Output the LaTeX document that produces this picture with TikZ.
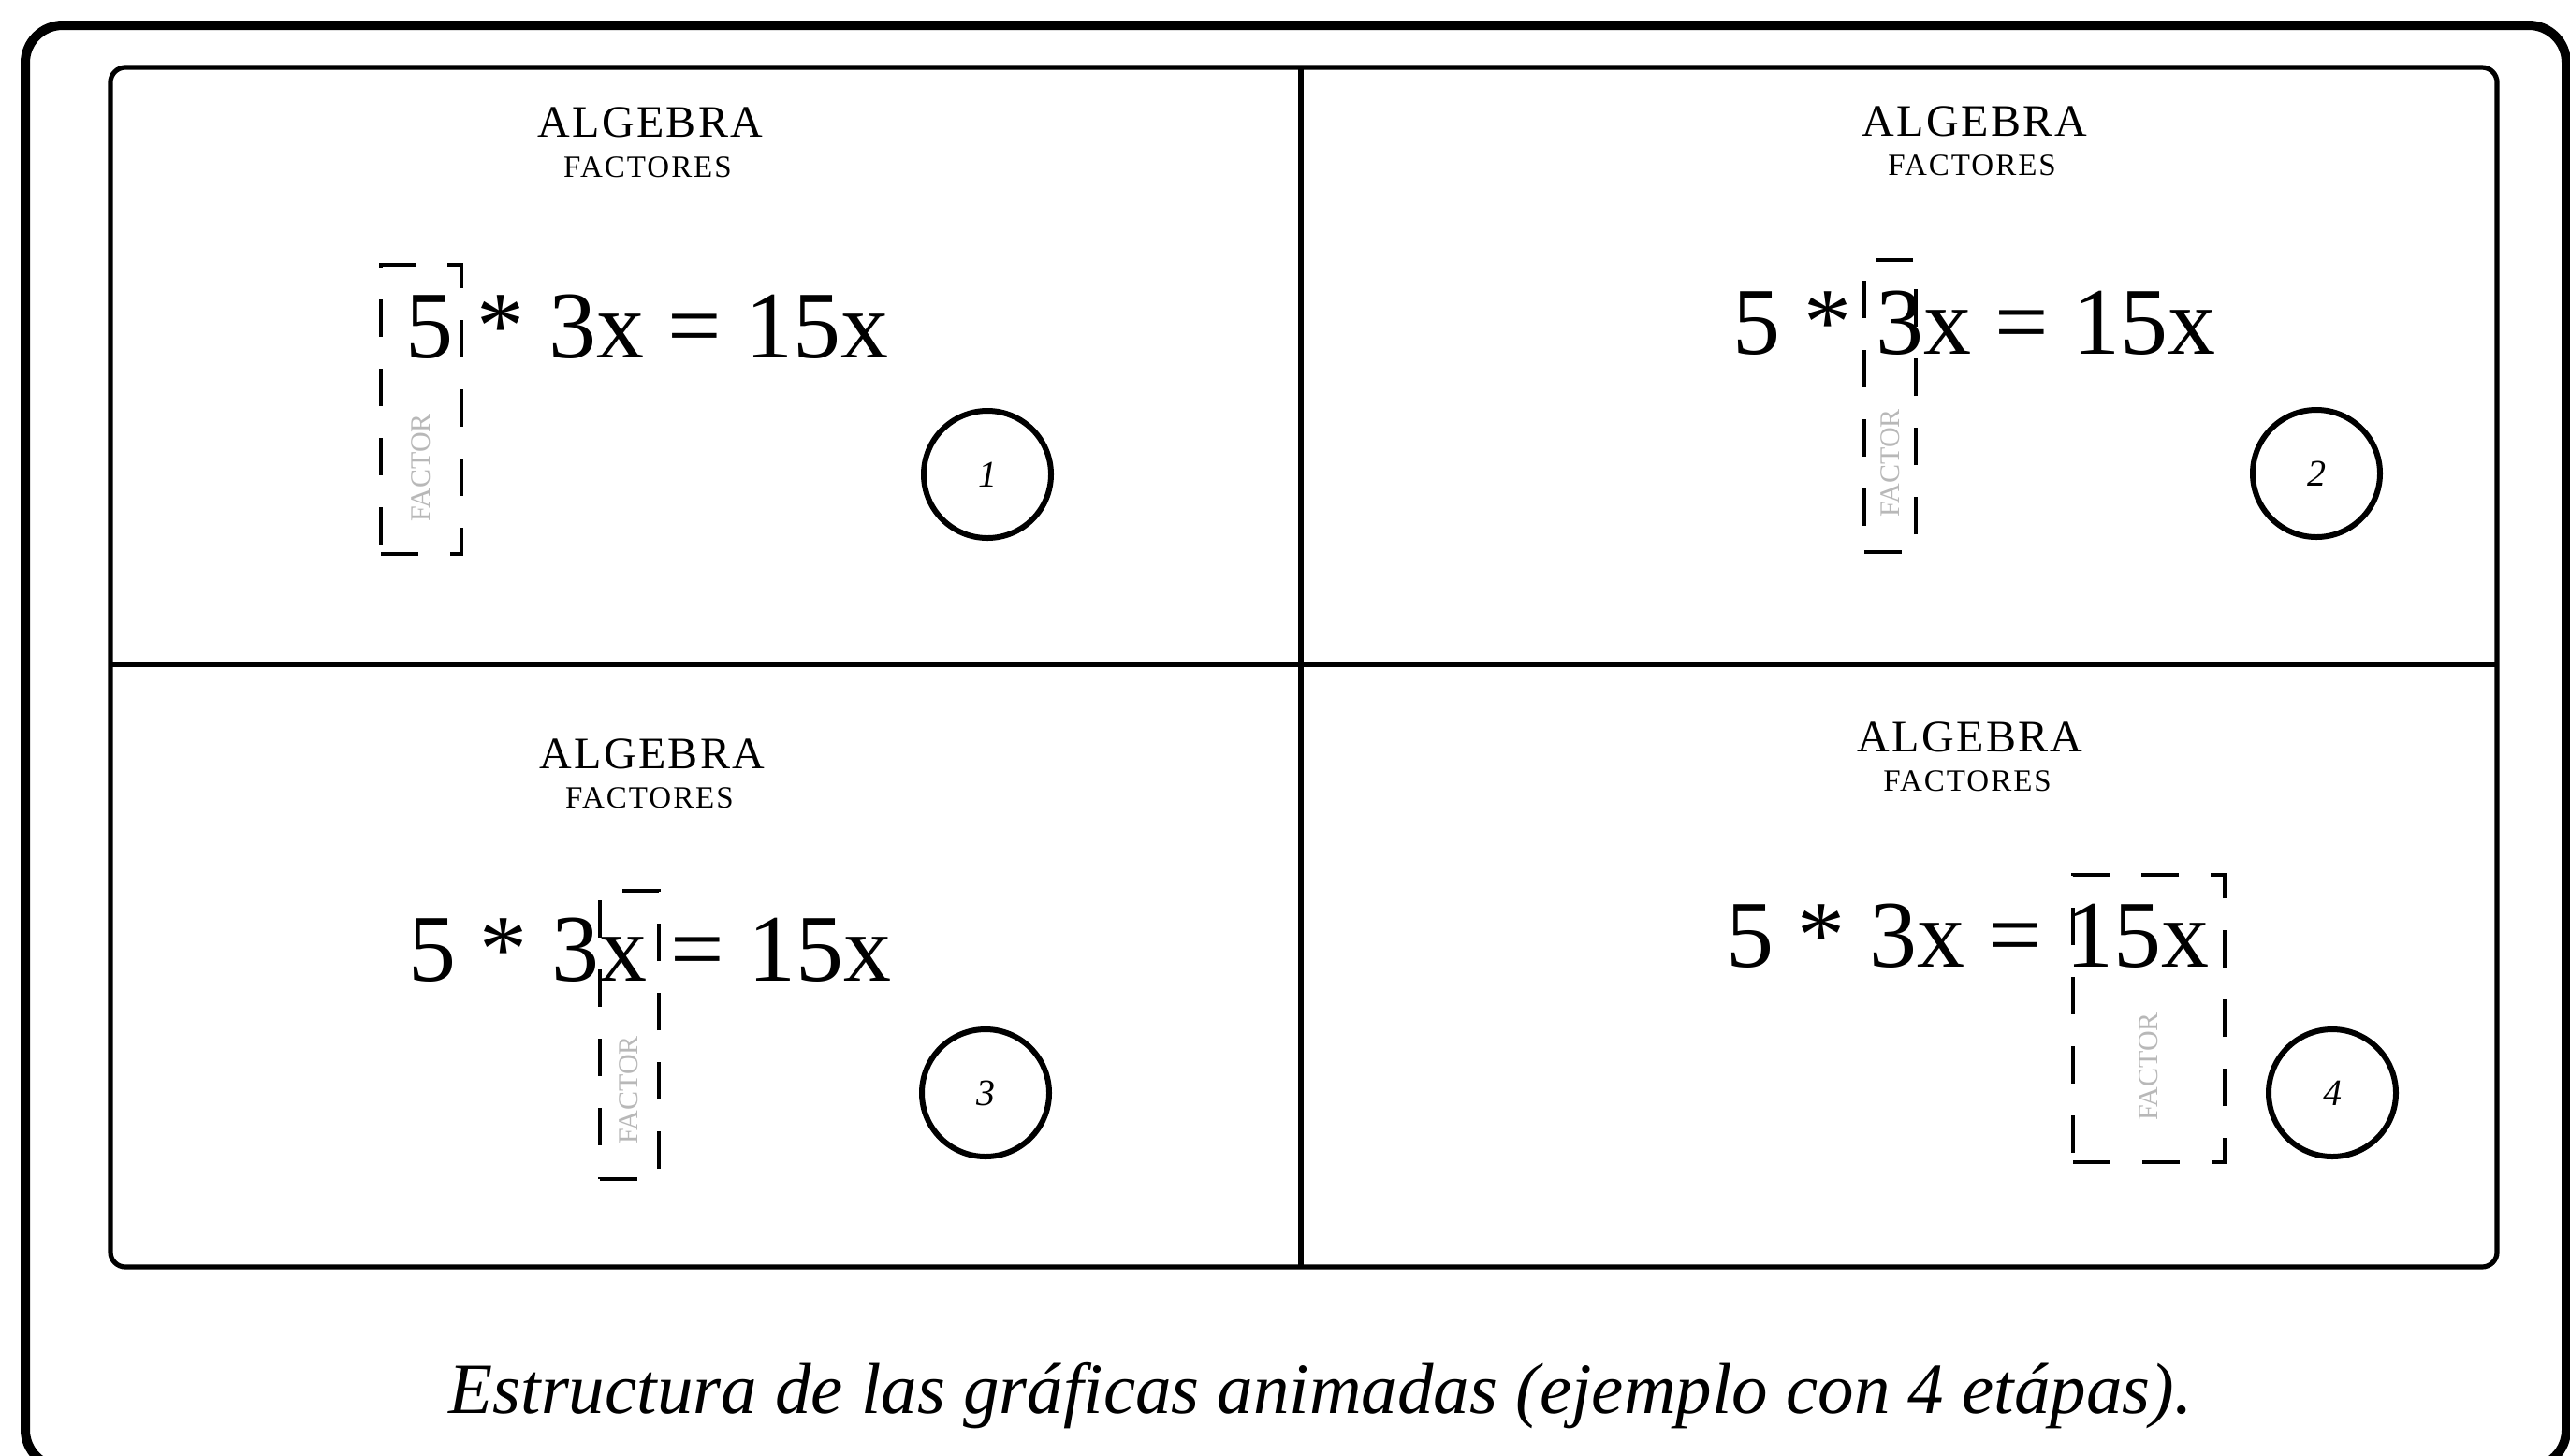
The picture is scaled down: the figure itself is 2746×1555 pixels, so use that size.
\documentclass[tikz,border=0pt]{standalone}
\usepackage{fontspec}
\setmainfont{Liberation Serif}
\begin{document}
\begin{tikzpicture}[x=0.5pt,y=-0.5pt,
  outerframe/.style={line width=5pt, rounded corners=20pt},
  innerframe/.style={line width=2.6pt, rounded corners=8pt},
  divider/.style={line width=2.6pt},
  head/.style={inner sep=0pt, font=\fontsize{24pt}{24pt}\selectfont\addfontfeature{LetterSpace=5}},
  sub/.style={inner sep=0pt, font=\fontsize{16.5pt}{16.5pt}\selectfont\addfontfeature{LetterSpace=6}},
  eqn/.style={inner sep=0pt, anchor=base west, font=\fontsize{51pt}{51pt}\selectfont},
  hilite/.style={draw, dash pattern=on 20pt off 17pt, line width=2pt, inner sep=0pt},
  stage/.style={circle, draw, line width=3pt, minimum size=68pt, inner sep=0pt, font=\fontsize{20pt}{20pt}\selectfont\itshape},
  faint/.style={rotate=90, text=black!28, font=\fontsize{15pt}{15pt}\selectfont, inner sep=0pt},
  caption/.style={inner sep=0pt, anchor=base, font=\fontsize{38.5pt}{40pt}\selectfont\itshape}
]
\useasboundingbox (0,0) rectangle (2746,1555);
\clip (0,0) rectangle (2746,1555);
\fill[white] (0,0) rectangle (2746,1555);

% frames
\draw[outerframe] (27,27) rectangle (2742,1568);
\draw[innerframe] (118,72) rectangle (2668,1354);
\coordinate (tm) at (1390,72);
\coordinate (bm) at (1390,1354);
\coordinate (lm) at (118,710);
\coordinate (rm) at (2668,710);
\draw[divider] (tm) -- (bm);
\draw[divider] (lm) -- (rm);

% panel 1
\node[head] (h1) at (695,131) {ALGEBRA};
\node[sub] (s1) at (692,179) {FACTORES};
\node[eqn] (e1) at (433,382) {5 * 3x = 15x};
\node[hilite, minimum width=43pt, minimum height=154.5pt] (b1) at (450,437.5) {};
\node[faint] (f1) at (450,500) {FACTOR};
\node[stage] (c1) at (1055,507) {1};

% panel 2
\node[head] (h2) at (2110,130) {ALGEBRA};
\node[sub] (s2) at (2107,177) {FACTORES};
\node[eqn] (e2) at (1851,378) {5 * 3x = 15x};
\node[hilite, minimum width=27.5pt, minimum height=156pt] (b2) at (2019.5,434) {};
\node[faint] (f2) at (2020,495) {FACTOR};
\node[stage] (c2) at (2475,506) {2};

% panel 3
\node[head] (h3) at (697,806) {ALGEBRA};
\node[sub] (s3) at (694,853) {FACTORES};
\node[eqn] (e3) at (436,1048) {5 * 3x = 15x};
\node[hilite, minimum width=31.5pt, minimum height=154pt] (b3) at (672.5,1106) {};
\node[faint] (f3) at (672,1165) {FACTOR};
\node[stage] (c3) at (1053,1168) {3};

% panel 4
\node[head] (h4) at (2105,788) {ALGEBRA};
\node[sub] (s4) at (2102,835) {FACTORES};
\node[eqn] (e4) at (1844,1033) {5 * 3x = 15x};
\node[hilite, minimum width=81pt, minimum height=153.5pt] (b4) at (2296,1088.5) {};
\node[faint] (f4) at (2296,1140) {FACTOR};
\node[stage] (c4) at (2492,1168) {4};

% caption
\node[caption] (cap) at (1411,1510) {Estructura de las gráficas animadas (ejemplo con 4 etápas).};
\end{tikzpicture}
\end{document}
